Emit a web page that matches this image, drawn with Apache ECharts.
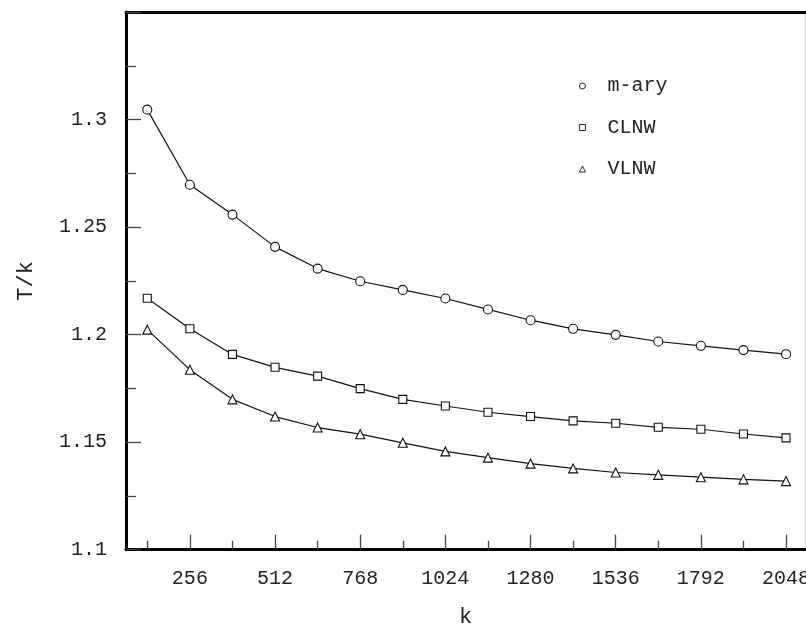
<!DOCTYPE html>
<html>
<head>
<meta charset="utf-8">
<script src="https://cdn.jsdelivr.net/npm/echarts@6/dist/echarts.min.js"></script>
<style>
  html, body { margin: 0; padding: 0; background: #fff; }
  #chart { width: 806px; height: 625px; }
</style>
</head>
<body>
<div id="chart"></div>
<script>
const kValues = [128, 256, 384, 512, 640, 768, 896, 1024, 1152, 1280, 1408, 1536, 1664, 1792, 1920, 2048];
const mAry = [1.3046, 1.2697, 1.2558, 1.2408, 1.2307, 1.2248, 1.2208, 1.2168, 1.2117, 1.2067, 1.2027, 1.1999, 1.1968, 1.1948, 1.1928, 1.1909];
const clnw = [1.2169, 1.2027, 1.1908, 1.1848, 1.1807, 1.1749, 1.1699, 1.1668, 1.1639, 1.1619, 1.1599, 1.1588, 1.1569, 1.1560, 1.1538, 1.1520];
const vlnw = [1.2023, 1.1837, 1.1699, 1.1619, 1.1568, 1.1537, 1.1497, 1.1457, 1.1428, 1.1400, 1.1378, 1.1359, 1.1348, 1.1337, 1.1327, 1.1319];
const xMajorTicks = [256, 512, 768, 1024, 1280, 1536, 1792, 2048];
const xMinorTicks = [128, 384, 640, 896, 1152, 1408, 1664, 1920];

const FONT = '"Courier New", "Liberation Mono", monospace';
const pairs = arr => kValues.map((k, i) => [k, arr[i]]);

const chart = echarts.init(document.getElementById('chart'), null, { renderer: 'canvas' });

function mkSeries(name, data, symbol, size) {
  return {
    name: name, type: 'line', data: pairs(data),
    symbol: symbol, symbolSize: size, showSymbol: true,
    lineStyle: { color: '#111', width: 1.2 },
    itemStyle: { color: '#fff', borderColor: '#111', borderWidth: 1.1 },
    emphasis: { disabled: true },
    animation: false, z: 3
  };
}

chart.setOption({
  animation: false,
  backgroundColor: '#fff',
  grid: { left: 126, top: 12, right: 1, bottom: 75.3, containLabel: false, outerBoundsMode: 'none' },
  legend: {
    orient: 'vertical', left: 574, top: 71, itemGap: 21.5,
    itemWidth: 6, itemHeight: 6, selectedMode: false,
    itemStyle: { borderWidth: 0.9 },
    textStyle: { fontFamily: FONT, fontSize: 20, color: '#222', lineHeight: 20, padding: [0, 0, 0, 17] },
    data: [
      { name: 'm-ary', icon: 'circle' },
      { name: 'CLNW', icon: 'rect' },
      { name: 'VLNW', icon: 'triangle' }
    ]
  },
  xAxis: [
    {
      type: 'value', min: 64, max: 2105, position: 'bottom',
      name: 'k', nameLocation: 'middle', nameGap: 56,
      nameTextStyle: { fontFamily: FONT, fontSize: 22, color: '#222', verticalAlign: 'top' },
      axisLine: { show: true, onZero: false, lineStyle: { color: '#000', width: 3 } },
      axisTick: { show: true, inside: true, length: 15, customValues: xMajorTicks, lineStyle: { color: '#444', width: 1.3 } },
      axisLabel: { show: true, margin: 19, customValues: xMajorTicks, fontFamily: FONT, fontSize: 20, color: '#222', formatter: v => String(v) },
      splitLine: { show: false }
    },
    {
      type: 'value', min: 64, max: 2105, position: 'bottom', offset: 0,
      axisLine: { show: false },
      axisTick: { show: true, inside: true, length: 9, customValues: xMinorTicks, lineStyle: { color: '#444', width: 1.3 } },
      axisLabel: { show: false },
      splitLine: { show: false }
    },
    {
      type: 'value', min: 64, max: 2105, position: 'top',
      axisLine: { show: true, onZero: false, lineStyle: { color: '#000', width: 3 } },
      axisTick: { show: false }, axisLabel: { show: false }, splitLine: { show: false }
    }
  ],
  yAxis: [
    {
      type: 'value', min: 1.1, max: 1.35, interval: 0.05, position: 'left',
      name: 'T/k', nameLocation: 'middle', nameGap: 89, nameRotate: 90,
      nameTextStyle: { fontFamily: FONT, fontSize: 22, color: '#222' },
      axisLine: { show: true, onZero: false, lineStyle: { color: '#000', width: 3 } },
      axisTick: { show: true, inside: true, length: 15, lineStyle: { color: '#444', width: 1.3 } },
      minorTick: { show: true, splitNumber: 2, length: 10, lineStyle: { color: '#444', width: 1.3 } },
      axisLabel: {
        margin: 19, fontFamily: FONT, fontSize: 20, color: '#222', showMaxLabel: false,
        formatter: v => (Math.abs(v - 1.35) < 1e-6 ? '' : String(parseFloat(v.toFixed(3))))
      },
      splitLine: { show: false }
    },
    {
      type: 'value', min: 1.1, max: 1.35, position: 'right',
      axisLine: { show: true, onZero: false, lineStyle: { color: '#cfcfcf', width: 1 } },
      axisTick: { show: false }, axisLabel: { show: false }, splitLine: { show: false }
    }
  ],
  series: [
    mkSeries('m-ary', mAry, 'circle', 9),
    mkSeries('CLNW', clnw, 'rect', 8),
    mkSeries('VLNW', vlnw, 'triangle', 9)
  ]
});
</script>
</body>
</html>
